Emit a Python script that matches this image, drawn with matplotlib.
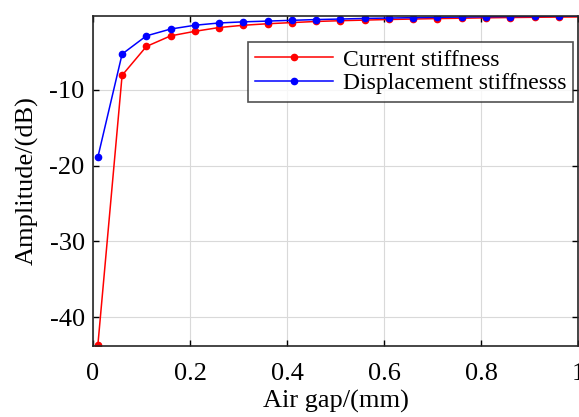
import numpy as np
import matplotlib
matplotlib.use("Agg")
from matplotlib import pyplot as plt

# air gap samples (mm) and response amplitudes (dB)
air_gap = [0.01, 0.06, 0.11, 0.16, 0.21, 0.26, 0.31, 0.36, 0.41, 0.46, 0.51,
           0.56, 0.61, 0.66, 0.71, 0.76, 0.81, 0.86, 0.91, 0.96, 1.01]
current_stiffness = [-43.7, -8.1, -4.3, -2.9, -2.3, -1.8, -1.5, -1.3, -1.15, -1.0, -0.9,
                     -0.82, -0.74, -0.68, -0.62, -0.57, -0.52, -0.48, -0.45, -0.42, -0.4]
displacement_stiffness = [-18.9, -5.3, -2.9, -2.0, -1.5, -1.2, -1.05, -0.95, -0.85, -0.75, -0.68,
                          -0.6, -0.55, -0.5, -0.45, -0.42, -0.38, -0.35, -0.33, -0.31, -0.3]

plt.rcParams['font.family'] = ['Liberation Serif', 'DejaVu Serif']

fig = plt.figure(figsize=(5.79, 4.17), dpi=100)
ax = fig.add_axes([0.1606, 0.170, 0.838, 0.792])

ax.plot(air_gap, current_stiffness, color='#ff0000', marker='o', markersize=4.5,
        linewidth=1.1, label='Current stiffness')
ax.plot(air_gap, displacement_stiffness, color='#0000ff', marker='o', markersize=4.5,
        linewidth=1.1, label='Displacement stiffnesss')

ax.set_xlim(0, 1)
ax.set_ylim(-43.8, -0.26)
ax.set_xticks([0, 0.2, 0.4, 0.6, 0.8, 1])
ax.set_xticklabels(['0', '0.2', '0.4', '0.6', '0.8', '1'])
ax.set_yticks([-40, -30, -20, -10])
ax.set_yticklabels(['-40', '-30', '-20', '-10'])

ax.grid(True, color='#d9d9d9', linewidth=0.8)
ax.set_axisbelow(True)
ax.tick_params(direction='in', top=True, right=True, length=4, width=1, labelsize=19)
ax.tick_params(axis='x', pad=12)
ax.tick_params(axis='y', pad=6)
for s in ax.spines.values():
    s.set_linewidth(1.2)
    s.set_color('#262626')

ax.set_xlabel('Air gap/(mm)', fontsize=19, labelpad=4)
ax.set_ylabel('Amplitude/(dB)', fontsize=19, labelpad=8)

# legend box sits a little below the top-right corner
leg = ax.legend(loc='upper right', bbox_to_anchor=(0.99, 0.921), borderaxespad=0,
                fontsize=17, frameon=True, fancybox=False, edgecolor='#262626',
                handlelength=3.3, borderpad=0.3, labelspacing=0.1, handletextpad=0.4)
leg.get_frame().set_linewidth(1.2)

fig.savefig('out.png', dpi=100)
